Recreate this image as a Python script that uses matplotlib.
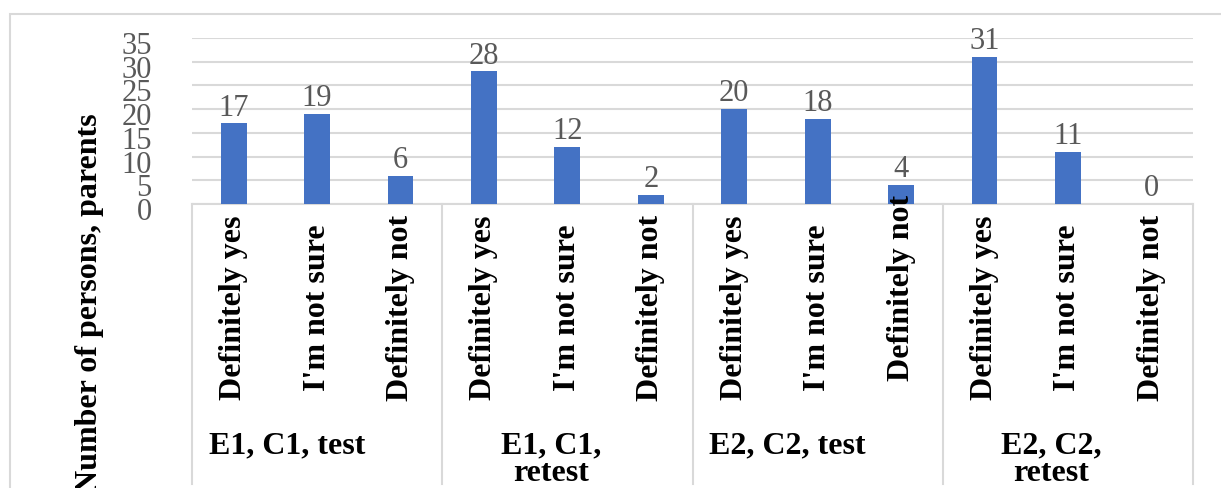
import matplotlib.pyplot as plt
import matplotlib.transforms as mtransforms
from matplotlib.patches import Rectangle
import numpy as np

# data
answers = ["Definitely yes", "I'm not sure", "Definitely not"]
groups = ["E1, C1, test", "E1, C1,\nretest", "E2, C2, test", "E2, C2,\nretest"]
values = [17, 19, 6, 28, 12, 2, 20, 18, 4, 31, 11, 0]
yticks = [0, 5, 10, 15, 20, 25, 30, 35]

plt.rcParams['font.family'] = ['Liberation Serif', 'DejaVu Serif']

W, H = 1221, 488
fig = plt.figure(figsize=(W / 100, H / 100), dpi=100)
ax = fig.add_axes([192 / W, 1 - 204 / H, (1193 - 192) / W, (204 - 38) / H])

blue = '#4472C4'
grid = '#D9D9D9'
gray = '#595959'

x = np.arange(len(values))
bars = ax.bar(x, values, width=0.31, color=blue, zorder=3)

ax.set_xlim(-0.5, len(values) - 0.5)
ax.set_ylim(0, 35)
ax.set_yticks(yticks)
ax.set_yticklabels([str(t) for t in yticks], fontsize=22, color=gray)
ax.tick_params(axis='y', length=0, pad=29)
ax.set_xticks([])
shift = mtransforms.ScaledTranslation(0, -0.05, fig.dpi_scale_trans)
for lab in ax.get_yticklabels():
    lab.set_transform(lab.get_transform() + shift)

ax.yaxis.grid(True, color=grid, linewidth=1.5, zorder=0)
for s in ['top', 'right', 'left']:
    ax.spines[s].set_visible(False)
ax.spines['bottom'].set_color(grid)
ax.spines['bottom'].set_linewidth(1.5)

# value labels
for xi, v in zip(x, values):
    ax.annotate(str(v), (xi, v), xytext=(0, 0.5), textcoords='offset points',
                ha='center', va='bottom', fontsize=22, color=gray, zorder=4)

# category axis: answers, groups and separators
trans = mtransforms.blended_transform_factory(ax.transData, fig.transFigure)
for i in range(len(values)):
    yc = 308
    if i == 8:
        yc = 288
    ax.text(i, 1 - yc / H, answers[i % 3], transform=trans, rotation=90,
            rotation_mode='anchor', ha='center', va='center',
            fontsize=23, fontweight='bold', color='black', clip_on=False)

for g, name in enumerate(groups):
    gc = g * 3 + 1
    off = 0.2 if '\n' in name else 0.36
    ax.text(gc - off, 1 - 431 / H, name, transform=trans, ha='center', va='top',
            fontsize=23, fontweight='bold', linespacing=0.95, clip_on=False)

for b in np.arange(-0.5, len(values), 3):
    ax.plot([b, b], [1 - 204 / H, 1 - 484 / H], transform=trans, color=grid,
            linewidth=1.5, clip_on=False)

fig.text(90 / W, 1 - 113 / H, "Number of persons, parents", rotation=90,
         rotation_mode='anchor', ha='right', va='center',
         fontsize=23, fontweight='bold')

fig.patches.append(Rectangle((10 / W, -0.1), 1.2, 1.1 - 14 / H, transform=fig.transFigure,
                             fill=False, edgecolor=grid, linewidth=1.5))

fig.savefig('out.png', dpi=100)
